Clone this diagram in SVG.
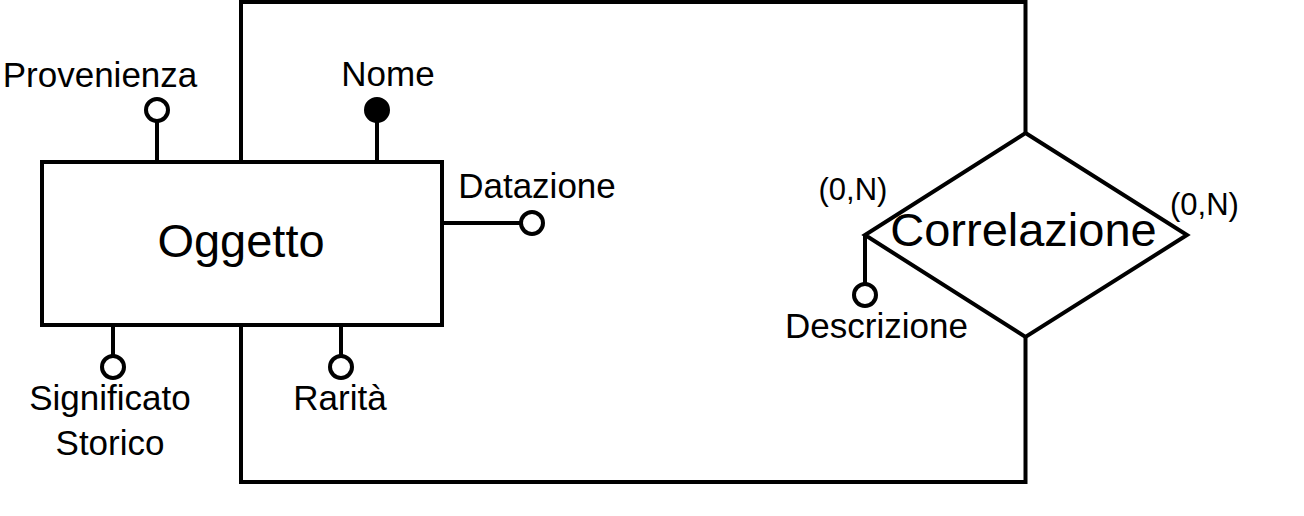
<svg xmlns="http://www.w3.org/2000/svg" width="1304" height="516" viewBox="0 0 1304 516">
<style>
.s{fill:none;stroke:#000;stroke-width:4}
.c{fill:#fff;stroke:#000;stroke-width:4}
.f{fill:#000;stroke:#000;stroke-width:4}
text{font-family:"Liberation Sans",Arial,sans-serif;fill:#000;text-anchor:middle}
.a{font-size:35px}
.b{font-size:47px}
.k{font-size:31px}
</style>
<rect width="1304" height="516" fill="#fff"/>
<g id="connectors">
<path class="s" d="M241,162 V2 H1025.5 V133"/>
<path class="s" d="M1025.5,337 V482 H241 V325"/>
</g>
<g id="oggetto">
<rect class="s" x="42" y="162" width="400" height="163" fill="#fff"/>
<text class="b" x="241" y="257">Oggetto</text>
</g>
<g id="correlazione">
<polygon class="s" points="1025.5,133 1187,235 1025.5,337 865,235" fill="#fff"/>
<text class="b" x="1023.5" y="246">Correlazione</text>
<text class="k" x="853" y="200">(0,N)</text>
<text class="k" x="1204.5" y="215">(0,N)</text>
</g>
<g id="attr-provenienza">
<line class="s" x1="157" y1="121" x2="157" y2="162"/>
<circle class="c" cx="157" cy="110" r="11"/>
<text class="a" x="100" y="87">Provenienza</text>
</g>
<g id="attr-nome">
<line class="s" x1="377" y1="121" x2="377" y2="162"/>
<circle class="f" cx="377" cy="110" r="11"/>
<text class="a" x="388" y="86">Nome</text>
</g>
<g id="attr-datazione">
<line class="s" x1="442" y1="223" x2="521" y2="223"/>
<circle class="c" cx="532" cy="223" r="11"/>
<text class="a" x="537" y="198">Datazione</text>
</g>
<g id="attr-significato">
<line class="s" x1="113" y1="325" x2="113" y2="356"/>
<circle class="c" cx="113" cy="367" r="11"/>
<text class="a" x="110" y="410">Significato</text>
<text class="a" x="110" y="455">Storico</text>
</g>
<g id="attr-rarita">
<line class="s" x1="341" y1="325" x2="341" y2="356"/>
<circle class="c" cx="341" cy="367" r="11"/>
<text class="a" x="340" y="410">Rarità</text>
</g>
<g id="attr-descrizione">
<line class="s" x1="865" y1="235" x2="865" y2="284"/>
<circle class="c" cx="865" cy="295" r="11"/>
<text class="a" x="876.5" y="338">Descrizione</text>
</g>
</svg>
